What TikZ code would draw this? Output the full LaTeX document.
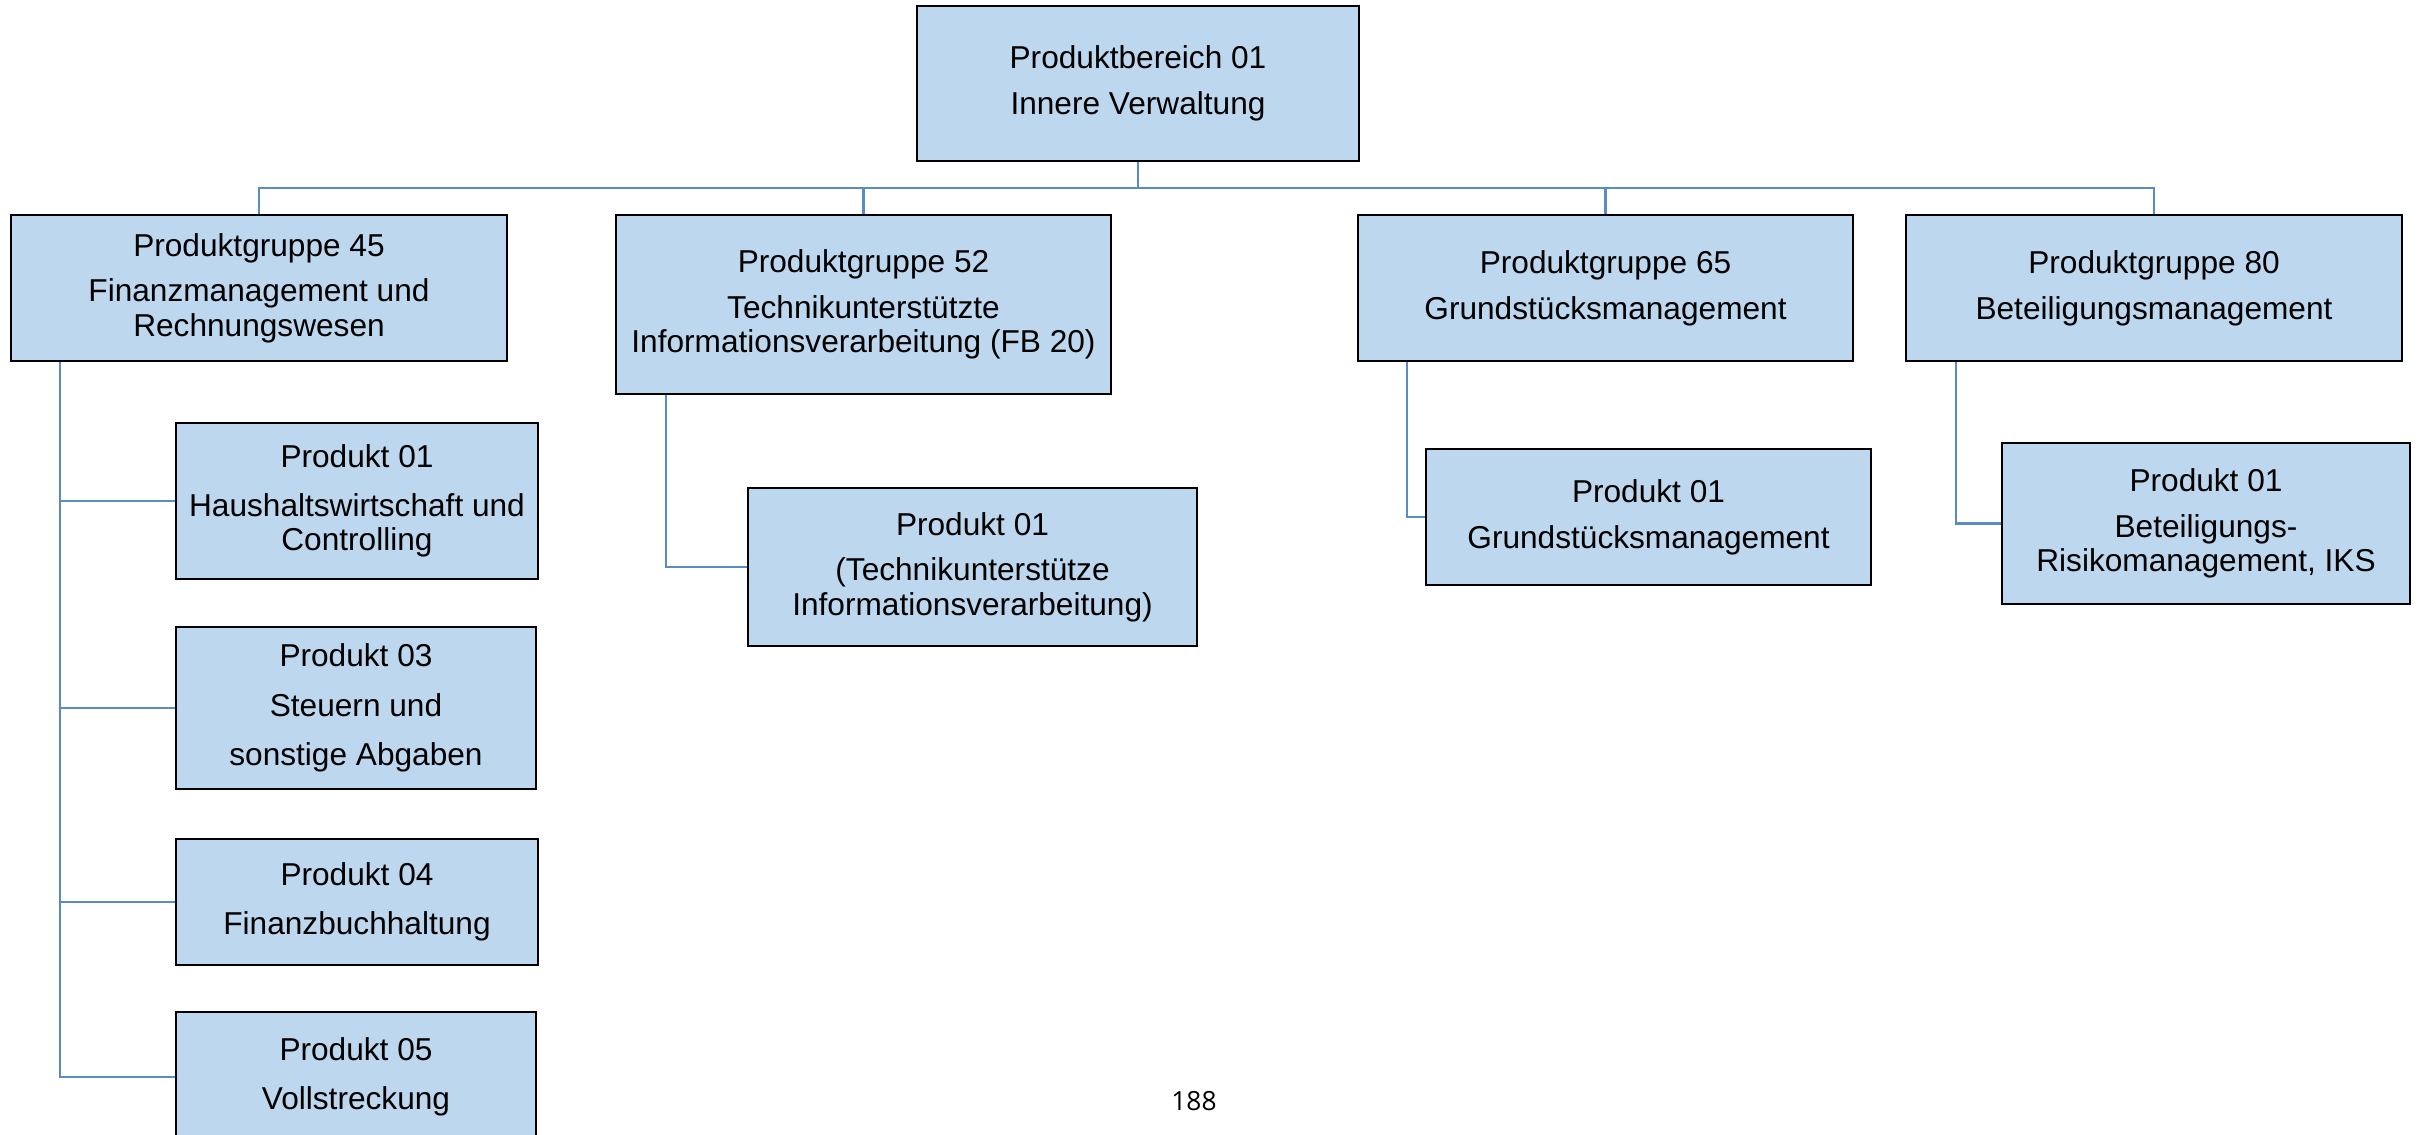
\documentclass[tikz,border=0pt]{standalone}
\usepackage{fontspec}
\setmainfont{Liberation Sans}
\newfontfamily\pagefont{Open Sans}

\begin{document}
\begin{tikzpicture}
  \definecolor{boxblue}{HTML}{BDD7EE}
  \definecolor{linkblue}{HTML}{5B8BC5}
  \tikzstyle{every node}=[font=\fontsize{9}{9.7}\selectfont]
  \tikzstyle{box}=[draw=black, line width=0.8pt, fill=boxblue, align=center, inner sep=1pt]
  \tikzstyle{link}=[draw=linkblue, line width=0.8pt]

  \path[use as bounding box] (0,0) rectangle (24.22,-11.34);
  \clip (0,0) rectangle (24.22,-11.34);

  % Produktbereich
  \node[box, minimum width=4.42cm, minimum height=1.55cm](pb01) at (11.38,-0.835) {Produktbereich 01\\[3.3pt] Innere Verwaltung};

  % Produktgruppen
  \node[box, minimum width=4.96cm, minimum height=1.46cm](pg45) at (2.59,-2.88) {Produktgruppe 45\\[3.3pt] Finanzmanagement und\\ Rechnungswesen};
  \node[box, minimum width=4.95cm, minimum height=1.79cm](pg52) at (8.635,-3.045) {Produktgruppe 52\\[3.3pt] Technikunterstützte\\ Informationsverarbeitung (FB 20)};
  \node[box, minimum width=4.95cm, minimum height=1.46cm](pg65) at (16.055,-2.88) {Produktgruppe 65\\[3.3pt] Grundstücksmanagement};
  \node[box, minimum width=4.96cm, minimum height=1.46cm](pg80) at (21.54,-2.88) {Produktgruppe 80\\[3.3pt] Beteiligungsmanagement};

  % Produkte
  \node[box, minimum width=3.62cm, minimum height=1.56cm](p45a) at (3.57,-5.01) {Produkt 01\\[4.3pt] Haushaltswirtschaft und\\ Controlling};
  \node[box, minimum width=3.60cm, minimum height=1.62cm](p45c) at (3.56,-7.08) {Produkt 03\\[4.3pt] Steuern und\\[4.3pt] sonstige Abgaben};
  \node[box, minimum width=3.62cm, minimum height=1.26cm](p45d) at (3.57,-9.02) {Produkt 04\\[4.3pt] Finanzbuchhaltung};
  \node[box, minimum width=3.60cm, minimum height=1.30cm](p45e) at (3.56,-10.77) {Produkt 05\\[4.3pt] Vollstreckung};
  \node[box, minimum width=4.49cm, minimum height=1.58cm](p52a) at (9.725,-5.67) {Produkt 01\\[3.3pt] (Technikunterstütze\\ Informationsverarbeitung)};
  \node[box, minimum width=4.45cm, minimum height=1.36cm](p65a) at (16.485,-5.17) {Produkt 01\\[3.3pt] Grundstücksmanagement};
  \node[box, minimum width=4.08cm, minimum height=1.61cm](p80a) at (22.06,-5.235) {Produkt 01\\[3.3pt] Beteiligungs-\\ Risikomanagement, IKS};

  \node[font=\pagefont\fontsize{7.5}{9}\selectfont](pagenr) at (11.94,-11.01) {188};

  % connectors
  \coordinate (bus) at (11.38,-1.88);
  \foreach \g in {pg45,pg52,pg65,pg80}
    \draw[link] (pb01.south) |- (\g.north |- bus) -- (\g.north);

  \coordinate (t45) at (0.60,0);
  \coordinate (t52) at (6.66,0);
  \coordinate (t65) at (14.07,0);
  \coordinate (t80) at (19.56,0);
  \foreach \p in {p45a,p45c,p45d,p45e}
    \draw[link] (t45 |- pg45.south) |- (\p.west);
  \draw[link] (t52 |- pg52.south) |- (p52a.west);
  \draw[link] (t65 |- pg65.south) |- (p65a.west);
  \draw[link] (t80 |- pg80.south) |- (p80a.west);

\end{tikzpicture}
\end{document}
